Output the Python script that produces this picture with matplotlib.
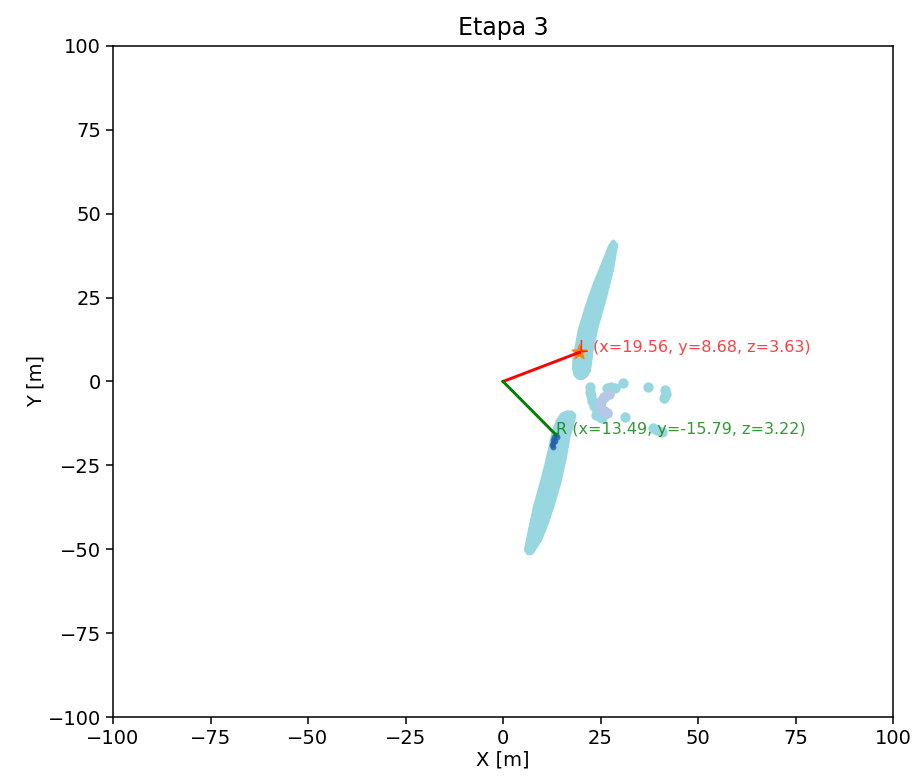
import matplotlib
matplotlib.use("Agg")
import matplotlib.pyplot as plt

CLOUD = "#98d6e0"
LAV = "#b6c8e8"
DARK = "#2060a8"

# outline of upper wall of points
upper_x = [28.3, 29.0, 27.9, 26.2, 24.0, 22.7, 22.3, 22.0, 21.3, 20.3, 19.3, 18.6, 18.2, 18.3, 18.9, 19.7, 21.5, 23.6, 25.7, 27.4]
upper_y = [41.7, 40.7, 33.2, 25.3, 16.3, 9.4, 5.4, 3.2, 1.8, 1.0, 1.1, 2.0, 3.8, 6.5, 10.4, 15.4, 22.3, 29.3, 35.2, 40.2]

# outline of lower wall of points
lower_x = [16.4, 17.6, 18.3, 17.9, 16.8, 15.9, 14.6, 12.9, 11.2, 9.5, 7.4, 6.5, 5.9, 6.9, 8.2, 9.9, 11.2, 12.2, 12.9, 14.0, 15.1]
lower_y = [-9.2, -9.3, -10.1, -12.0, -16.4, -22.4, -29.4, -36.3, -42.3, -47.2, -51.0, -51.2, -50.2, -44.3, -37.3, -30.3, -24.4, -19.4, -15.4, -11.8, -9.9]

# scattered points between the walls
mid_x = [22.3, 22.4, 22.6, 22.9, 23.3, 26.6, 27.6, 28.6, 30.8, 37.2, 41.5, 41.7, 41.3, 24.9, 23.8, 31.3, 38.5, 40.8, 39.6, 24.0, 25.5]
mid_y = [-1.6, -3.0, -4.4, -5.8, -7.2, -1.8, -1.6, -2.0, -0.5, -1.6, -2.6, -3.8, -5.0, -10.5, -10.0, -10.6, -13.9, -15.0, -14.6, -8.8, -11.0]

# curved cluster in the middle
lav_x = [27.2, 26.0, 25.2, 24.9, 25.1, 25.8, 26.6]
lav_y = [-3.7, -4.6, -5.8, -7.0, -8.0, -8.9, -9.4]

# points around R
rpts_x = [13.5, 13.2, 12.9, 12.7, 12.5, 13.8, 13.4, 12.8]
rpts_y = [-15.8, -16.6, -17.4, -18.2, -19.0, -16.4, -17.8, -19.5]

L = (19.56, 8.68, 3.63)
R = (13.49, -15.79, 3.22)

fig = plt.figure(figsize=(9.18, 7.82), dpi=100)
ax = fig.add_axes([0.1231, 0.0831, 0.8497, 0.8581])

ax.fill(upper_x, upper_y, color=CLOUD, lw=3, joinstyle="round", zorder=1)
ax.fill(lower_x, lower_y, color=CLOUD, lw=3, joinstyle="round", zorder=1)
ax.scatter(mid_x, mid_y, s=55, color=CLOUD, lw=0, zorder=1)
ax.scatter(lav_x, lav_y, s=60, color=LAV, lw=0, zorder=2)
ax.scatter(rpts_x, rpts_y, s=18, color=DARK, lw=0, alpha=0.8, zorder=3)
ax.scatter([L[0]], [L[1]], s=120, marker="*", color="#ff7f0e", zorder=4)

ax.plot([0, L[0]], [0, L[1]], color="red", lw=2.1, zorder=5)
ax.plot([0, R[0]], [0, R[1]], color="green", lw=2.1, zorder=5)
ax.text(L[0], L[1], f"L (x={L[0]:.2f}, y={L[1]:.2f}, z={L[2]:.2f})",
        color="red", alpha=0.75, fontsize=11.5, zorder=6)
ax.text(R[0], R[1], f"R (x={R[0]:.2f}, y={R[1]:.2f}, z={R[2]:.2f})",
        color="green", alpha=0.8, fontsize=11.5, zorder=6)

ax.set_xlim(-100, 100)
ax.set_ylim(-100, 100)
ax.set_xticks(range(-100, 101, 25))
ax.set_yticks(range(-100, 101, 25))
ax.tick_params(labelsize=14, length=5, width=1.1)
for sp in ax.spines.values():
    sp.set_linewidth(1.1)
ax.set_xlabel("X [m]", fontsize=14, labelpad=2)
ax.set_ylabel("Y [m]", fontsize=14, labelpad=2)
ax.set_title("Etapa 3", fontsize=17, pad=8)

plt.savefig("out.png", dpi=100)
